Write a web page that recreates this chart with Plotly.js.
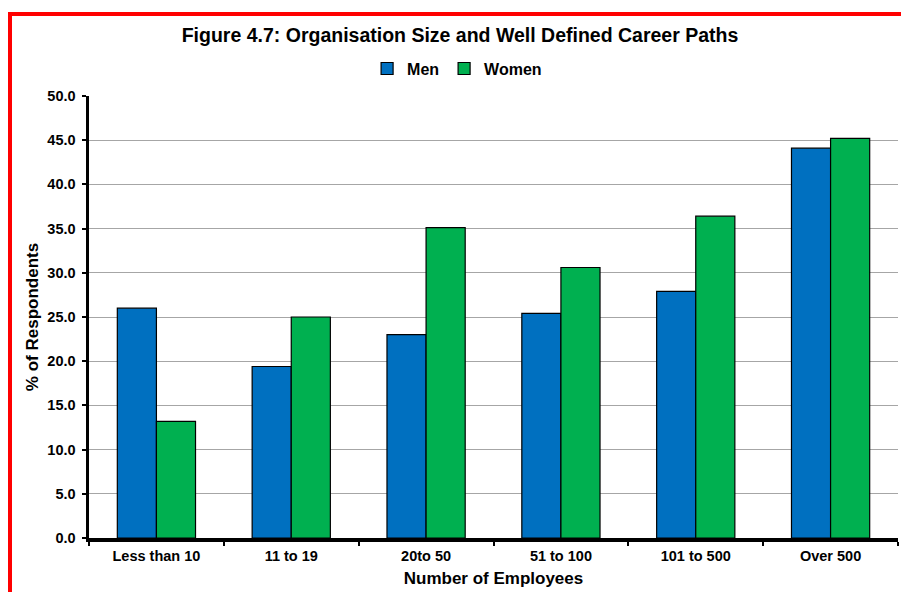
<!DOCTYPE html>
<html>
<head>
<meta charset="utf-8">
<script src="https://cdn.plot.ly/plotly-3.0.1.min.js"></script>
<style>
  html, body { margin: 0; padding: 0; background: #ffffff; overflow: hidden; }
  #chart { position: absolute; left: 0; top: 0; width: 901px; height: 592px; }
  #frame { position: absolute; left: 8px; top: 12px; width: 2000px; height: 2000px;
           border: 4px solid #ff0000; box-sizing: border-box; pointer-events: none; z-index: 10; }
</style>
</head>
<body>
<div id="chart"></div>
<div id="frame"></div>
<script>
const categories = ["Less than 10", "11 to 19", "20to 50", "51 to 100", "101 to 500", "Over 500"];
const menValues = [26.0, 19.4, 23.0, 25.4, 27.9, 44.1];
const womenValues = [13.2, 25.0, 35.1, 30.6, 36.4, 45.2];
const yTickValues = [0, 5, 10, 15, 20, 25, 30, 35, 40, 45, 50];

const FONT = "Liberation Sans, Arial, Helvetica, sans-serif";

const traces = [
  {
    type: "bar", name: "Men", x: categories, y: menValues,
    marker: { color: "#0070C0", line: { color: "#000000", width: 1.2 } },
    hoverinfo: "x+y"
  },
  {
    type: "bar", name: "Women", x: categories, y: womenValues,
    marker: { color: "#00B050", line: { color: "#000000", width: 1.2 } },
    hoverinfo: "x+y"
  }
];

const layout = {
  width: 901, height: 592,
  paper_bgcolor: "#ffffff", plot_bgcolor: "#ffffff",
  margin: { l: 89, r: 3, t: 96, b: 54, pad: 0 },
  barmode: "group", bargap: 0.42, bargroupgap: 0,
  font: { family: FONT, color: "#000000" },
  title: {
    text: "Figure 4.7: Organisation Size and Well Defined Career Paths",
    font: { family: FONT, size: 19.5, weight: "bold", color: "#000000" },
    x: 460 / 901, xanchor: "center", xref: "container",
    y: 1 - 35.5 / 592, yanchor: "middle", yref: "container"
  },
  showlegend: true,
  legend: {
    orientation: "h", x: 0.455, xanchor: "center", y: 1.062, yanchor: "middle",
    font: { family: FONT, size: 16, weight: "bold", color: "#000000" },
    bgcolor: "rgba(0,0,0,0)", itemwidth: 30, traceorder: "normal"
  },
  xaxis: {
    type: "category", categoryorder: "array", categoryarray: categories,
    showline: true, linecolor: "#000000", linewidth: 3.5,
    ticks: "outside", tickson: "boundaries", ticklen: 4, tickwidth: 2, tickcolor: "#000000",
    ticklabelstandoff: 2,
    tickfont: { family: FONT, size: 14.5, weight: "bold", color: "#000000" },
    showgrid: false, zeroline: false, fixedrange: true,
    title: {
      text: "Number of Employees", standoff: 10,
      font: { family: FONT, size: 17, weight: "bold", color: "#000000" }
    }
  },
  yaxis: {
    range: [0, 50], tickvals: yTickValues, tickformat: ".1f",
    showline: true, linecolor: "#000000", linewidth: 3.5,
    ticks: "outside", ticklen: 4, tickwidth: 2, tickcolor: "#000000",
    ticklabelstandoff: 3,
    tickfont: { family: FONT, size: 14.5, weight: "bold", color: "#000000" },
    showgrid: true, gridcolor: "#a6a6a6", gridwidth: 1, zeroline: false, fixedrange: true,
    title: {
      text: "% of Respondents", standoff: 5,
      font: { family: FONT, size: 17, weight: "bold", color: "#000000" }
    }
  }
};

Plotly.newPlot("chart", traces, layout, { displayModeBar: false, staticPlot: true });
</script>
</body>
</html>
